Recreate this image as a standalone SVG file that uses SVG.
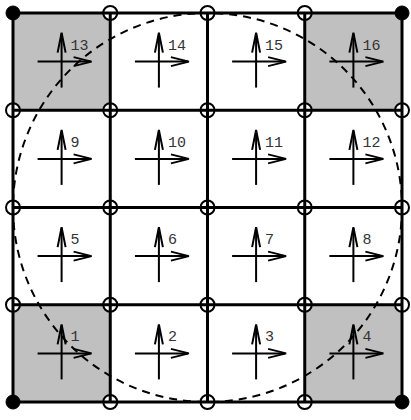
<svg xmlns="http://www.w3.org/2000/svg" width="411" height="420" viewBox="0 0 411 420">
<style>
.cell{fill:#ffffff;stroke:none}
.shade{fill:#c0c0c0;stroke:none}
.grid{stroke:#000;stroke-width:3;fill:none;stroke-linecap:square}
.node{fill:#fff;stroke:#000;stroke-width:2}
.dot{fill:#000;stroke:#000;stroke-width:1}
.arr{stroke:#000;stroke-width:2;fill:none;stroke-linejoin:miter}
.lbl{font-family:"Liberation Mono","Courier New",monospace;font-size:15px;fill:#333}
.dash{fill:none;stroke:#000;stroke-width:2;stroke-dasharray:8,6}
</style>
<defs>
<g id="arrows">
<path class="arr" d="M-24,0 H29"/>
<path class="arr" d="M12,-4.5 L30,0 L12,4.5"/>
<path class="arr" d="M0,26 V-28"/>
<path class="arr" d="M-4,-9 L0,-29 L4,-9"/>
</g>
</defs>
<rect x="0" y="0" width="411" height="420" fill="#fff"/>
<g id="cell-13"><rect class="shade" x="13" y="13" width="97.25" height="97.25"/><use href="#arrows" x="61.6" y="61.6"/><text class="lbl" x="70.6" y="49.6">13</text></g>
<g id="cell-14"><rect class="cell" x="110.25" y="13" width="97.25" height="97.25"/><use href="#arrows" x="158.9" y="61.6"/><text class="lbl" x="167.9" y="49.6">14</text></g>
<g id="cell-15"><rect class="cell" x="207.5" y="13" width="97.25" height="97.25"/><use href="#arrows" x="256.1" y="61.6"/><text class="lbl" x="265.1" y="49.6">15</text></g>
<g id="cell-16"><rect class="shade" x="304.75" y="13" width="97.25" height="97.25"/><use href="#arrows" x="353.4" y="61.6"/><text class="lbl" x="362.4" y="49.6">16</text></g>
<g id="cell-9"><rect class="cell" x="13" y="110.25" width="97.25" height="97.25"/><use href="#arrows" x="61.6" y="158.9"/><text class="lbl" x="70.6" y="146.9">9</text></g>
<g id="cell-10"><rect class="cell" x="110.25" y="110.25" width="97.25" height="97.25"/><use href="#arrows" x="158.9" y="158.9"/><text class="lbl" x="167.9" y="146.9">10</text></g>
<g id="cell-11"><rect class="cell" x="207.5" y="110.25" width="97.25" height="97.25"/><use href="#arrows" x="256.1" y="158.9"/><text class="lbl" x="265.1" y="146.9">11</text></g>
<g id="cell-12"><rect class="cell" x="304.75" y="110.25" width="97.25" height="97.25"/><use href="#arrows" x="353.4" y="158.9"/><text class="lbl" x="362.4" y="146.9">12</text></g>
<g id="cell-5"><rect class="cell" x="13" y="207.5" width="97.25" height="97.25"/><use href="#arrows" x="61.6" y="256.1"/><text class="lbl" x="70.6" y="244.1">5</text></g>
<g id="cell-6"><rect class="cell" x="110.25" y="207.5" width="97.25" height="97.25"/><use href="#arrows" x="158.9" y="256.1"/><text class="lbl" x="167.9" y="244.1">6</text></g>
<g id="cell-7"><rect class="cell" x="207.5" y="207.5" width="97.25" height="97.25"/><use href="#arrows" x="256.1" y="256.1"/><text class="lbl" x="265.1" y="244.1">7</text></g>
<g id="cell-8"><rect class="cell" x="304.75" y="207.5" width="97.25" height="97.25"/><use href="#arrows" x="353.4" y="256.1"/><text class="lbl" x="362.4" y="244.1">8</text></g>
<g id="cell-1"><rect class="shade" x="13" y="304.75" width="97.25" height="97.25"/><use href="#arrows" x="61.6" y="353.4"/><text class="lbl" x="70.6" y="341.4">1</text></g>
<g id="cell-2"><rect class="cell" x="110.25" y="304.75" width="97.25" height="97.25"/><use href="#arrows" x="158.9" y="353.4"/><text class="lbl" x="167.9" y="341.4">2</text></g>
<g id="cell-3"><rect class="cell" x="207.5" y="304.75" width="97.25" height="97.25"/><use href="#arrows" x="256.1" y="353.4"/><text class="lbl" x="265.1" y="341.4">3</text></g>
<g id="cell-4"><rect class="shade" x="304.75" y="304.75" width="97.25" height="97.25"/><use href="#arrows" x="353.4" y="353.4"/><text class="lbl" x="362.4" y="341.4">4</text></g>
<g id="vertices">
<circle class="dot" cx="13" cy="13" r="7"/><circle class="node" cx="110.25" cy="13" r="7"/><circle class="node" cx="207.5" cy="13" r="7"/><circle class="node" cx="304.75" cy="13" r="7"/><circle class="dot" cx="402" cy="13" r="7"/>
<circle class="node" cx="13" cy="110.25" r="7"/><circle class="node" cx="110.25" cy="110.25" r="7"/><circle class="node" cx="207.5" cy="110.25" r="7"/><circle class="node" cx="304.75" cy="110.25" r="7"/><circle class="node" cx="402" cy="110.25" r="7"/>
<circle class="node" cx="13" cy="207.5" r="7"/><circle class="node" cx="110.25" cy="207.5" r="7"/><circle class="node" cx="207.5" cy="207.5" r="7"/><circle class="node" cx="304.75" cy="207.5" r="7"/><circle class="node" cx="402" cy="207.5" r="7"/>
<circle class="node" cx="13" cy="304.75" r="7"/><circle class="node" cx="110.25" cy="304.75" r="7"/><circle class="node" cx="207.5" cy="304.75" r="7"/><circle class="node" cx="304.75" cy="304.75" r="7"/><circle class="node" cx="402" cy="304.75" r="7"/>
<circle class="dot" cx="13" cy="402" r="7"/><circle class="node" cx="110.25" cy="402" r="7"/><circle class="node" cx="207.5" cy="402" r="7"/><circle class="node" cx="304.75" cy="402" r="7"/><circle class="dot" cx="402" cy="402" r="7"/>
</g>
<g id="connectors">
<path class="grid" d="M13,13 H402 M13,110.25 H402 M13,207.5 H402 M13,304.75 H402 M13,402 H402 M13,13 V402 M110.25,13 V402 M207.5,13 V402 M304.75,13 V402 M402,13 V402"/>
<circle class="dash" cx="207.5" cy="207.5" r="194.5"/>
</g>
</svg>
